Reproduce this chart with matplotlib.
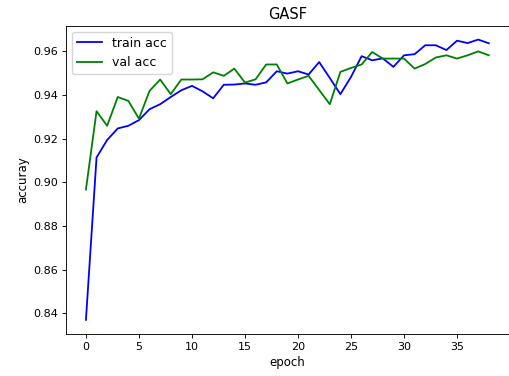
import matplotlib
matplotlib.use("Agg")
import matplotlib.pyplot as plt

epochs = list(range(39))
train_acc = [0.837, 0.9114, 0.9194, 0.9247, 0.9259, 0.9285, 0.9335, 0.9358, 0.9391, 0.9422,
             0.9442, 0.9417, 0.9385, 0.9447, 0.9448, 0.9453, 0.9447, 0.9458, 0.9509, 0.9498,
             0.9509, 0.9494, 0.9551, 0.9478, 0.9404, 0.9483, 0.9578, 0.9559, 0.9568, 0.9529,
             0.9582, 0.9587, 0.9628, 0.9628, 0.9606, 0.9649, 0.9638, 0.9654, 0.9637]
val_acc = [0.8967, 0.9326, 0.9259, 0.9391, 0.9373, 0.9292, 0.9419, 0.9471, 0.9404, 0.9471,
           0.9471, 0.9472, 0.9504, 0.9488, 0.9521, 0.9457, 0.9472, 0.9540, 0.9540, 0.9453,
           0.9471, 0.9488, 0.9423, 0.9358, 0.9506, 0.9524, 0.9540, 0.9597, 0.9567, 0.9567,
           0.9567, 0.9521, 0.9542, 0.9572, 0.9582, 0.9567, 0.9582, 0.9600, 0.9582]

fig = plt.figure(figsize=(5.10, 3.76), dpi=100)
ax = fig.add_axes([0.129, 0.112, 0.869, 0.82])
ax.plot(epochs, train_acc, color='b', lw=1.3, label='train acc')
ax.plot(epochs, val_acc, color='g', lw=1.3, label='val acc')
ax.set_title('GASF', fontsize=10.5, pad=5)
ax.set_xlabel('epoch', fontsize=8.5, labelpad=3)
ax.set_ylabel('accuray', fontsize=8.5, labelpad=3)
ax.tick_params(labelsize=8, length=2.8, width=0.64, pad=2.8)
for s in ax.spines.values():
    s.set_linewidth(0.64)
ax.legend(loc='upper left', fontsize=9)
fig.savefig('out.png', dpi=100)
